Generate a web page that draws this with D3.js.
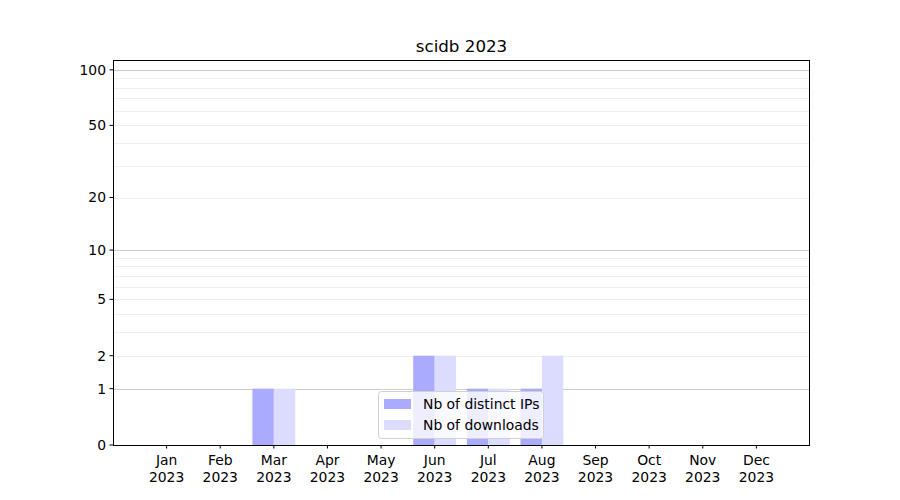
<!DOCTYPE html>
<html><head><meta charset="utf-8">
<script src="https://cdn.jsdelivr.net/npm/d3@7"></script>
<style>body{margin:0;background:#fff}text{font-family:"DejaVu Sans",sans-serif}</style>
</head><body><svg id="c" width="900" height="500"></svg>
<script>
const months = ["Jan","Feb","Mar","Apr","May","Jun","Jul","Aug","Sep","Oct","Nov","Dec"];
const year = "2023";
const distinctIPs = [0,0,1,0,0,2,1,1,0,0,0,0];
const downloads   = [0,0,1,0,0,2,1,2,0,0,0,0];
const yTicks = [0,1,2,5,10,20,50,100];
const majorGrid = [1,10,100];
const minorGrid = [2,3,4,5,6,7,8,9,20,30,40,50,60,70,80,90];
const title = "scidb 2023";
const seriesNames = ["Nb of distinct IPs","Nb of downloads"];

const svg = d3.select("#c");
const L=113,R=810,T=60,B=445;
const x = d3.scaleLinear().domain([-1,12]).range([L,R]);
const lg = d3.scaleLog().domain([1,114]).range([B,T]);
const y = v => lg(1+v);

// grid
svg.append("g").selectAll("line").data(minorGrid).join("line")
 .attr("x1",L).attr("x2",R).attr("y1",d=>Math.round(y(d))+0.5).attr("y2",d=>Math.round(y(d))+0.5)
 .attr("stroke","#ebebeb").attr("stroke-width",0.8);
svg.append("g").selectAll("line").data(majorGrid).join("line")
 .attr("x1",L).attr("x2",R).attr("y1",d=>Math.round(y(d))+0.5).attr("y2",d=>Math.round(y(d))+0.5)
 .attr("stroke","#cccccc").attr("stroke-width",1);

const w = x(0.4)-x(0);
svg.append("g").selectAll("rect").data(distinctIPs).join("rect")
 .attr("x",(d,i)=>x(i-0.4)).attr("width",w).attr("y",d=>y(d)).attr("height",d=>B-y(d))
 .attr("fill","#aaaaff");
svg.append("g").selectAll("rect").data(downloads).join("rect")
 .attr("x",(d,i)=>x(i)).attr("width",w).attr("y",d=>y(d)).attr("height",d=>B-y(d))
 .attr("fill","#dcdcff");

// frame
svg.append("rect").attr("x",L+0.5).attr("y",T+0.5).attr("width",R-L-1).attr("height",B-T)
 .attr("fill","none").attr("stroke","#000").attr("stroke-width",1);

// y axis
const ya = svg.append("g");
yTicks.forEach(t=>{
  const yy = y(t);
  ya.append("line").attr("x1",L-3.5).attr("x2",L).attr("y1",yy).attr("y2",yy).attr("stroke","#000");
  ya.append("text").attr("x",L-7).attr("y",yy).attr("dy","0.35em").attr("text-anchor","end")
    .attr("font-size","13.9px").text(t);
});
// x axis
const xa = svg.append("g");
months.forEach((m,i)=>{
  const xx = x(i);
  xa.append("line").attr("x1",xx).attr("x2",xx).attr("y1",B).attr("y2",B+3.5).attr("stroke","#000");
  xa.append("text").attr("x",xx).attr("y",B+20).attr("text-anchor","middle").attr("font-size","13.9px").text(m);
  xa.append("text").attr("x",xx).attr("y",B+37).attr("text-anchor","middle").attr("font-size","13.9px").text(year);
});

svg.append("text").attr("x",(L+R)/2).attr("y",52).attr("text-anchor","middle").attr("font-size","16.7px").text(title);

// legend
const lgG = svg.append("g");
lgG.append("rect").attr("x",378.5).attr("y",391.5).attr("width",165).attr("height",47).attr("rx",3)
 .attr("fill","rgba(255,255,255,0.8)").attr("stroke","#d0d0d0");
const cols=["#aaaaff","#dcdcff"];
seriesNames.forEach((n,i)=>{
  lgG.append("rect").attr("x",384).attr("y",399+i*21).attr("width",27).attr("height",10).attr("fill",cols[i]);
  lgG.append("text").attr("x",423).attr("y",409+i*21).attr("font-size","13.9px").text(n);
});
</script></body></html>
